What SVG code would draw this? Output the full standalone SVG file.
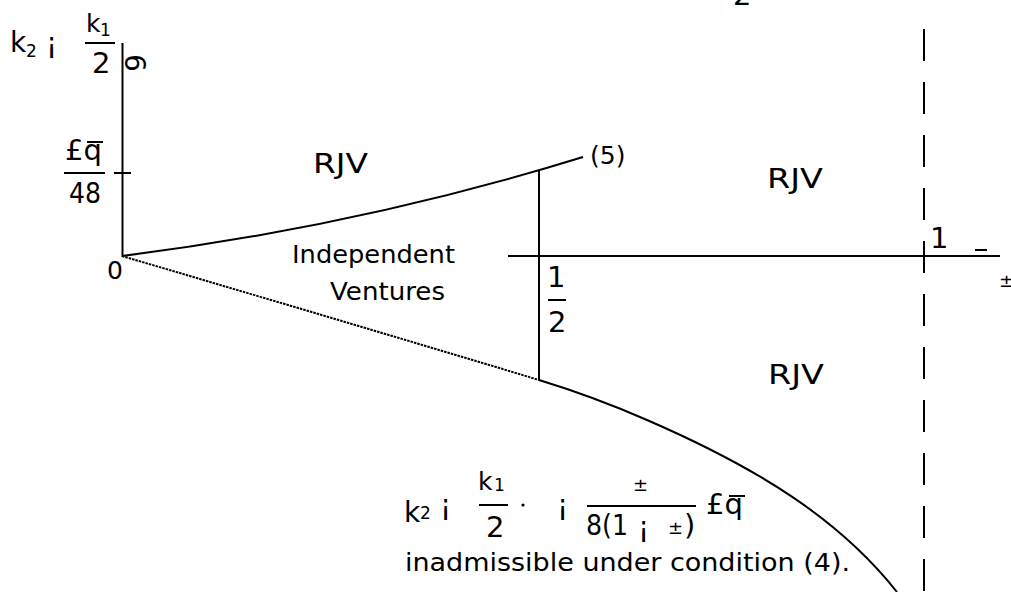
<svg xmlns="http://www.w3.org/2000/svg" width="1011" height="592" viewBox="0 0 1011 592">
<style>
  text { font-family: "DejaVu Sans", "Liberation Sans", sans-serif; fill: #000; }
  .lbl { font-size: 25px; }
  .rjv { font-size: 27px; }
  .m { font-size: 29px; }
  .mk { font-size: 28px; }
  .num { font-size: 25px; }
  .sub { font-size: 17px; }
  .pm { font-size: 18px; }
  .ln { stroke: #000; stroke-width: 2; fill: none; }
  .dot { stroke: #000; stroke-width: 2; fill: none; stroke-dasharray: 2.5 1; }
</style>
<rect width="1011" height="592" fill="#fff"/>

<g id="connectors">
  <line class="ln" x1="122.5" y1="43" x2="122.5" y2="257"/>
  <line class="ln" x1="114" y1="173" x2="131" y2="173"/>
  <path class="ln" d="M122,256 Q360,226 583,157"/>
  <line class="ln" x1="539" y1="170" x2="539" y2="380"/>
  <line class="ln" x1="508" y1="256" x2="1000" y2="256"/>
  <line class="ln" x1="924" y1="29" x2="924" y2="592" stroke-dasharray="32 21"/>
  <path class="dot" d="M122,256 C261,297 400,338 539,380"/>
  <path class="ln" d="M539,380 C580,392.5 615,406 647,420 C760,469 840,520 897,592"/>
</g>

<g id="ylabel">
  <text class="mk" x="10" y="52">k</text>
  <text class="sub" x="26" y="57">2</text>
  <text class="mk" x="46" y="53">¡</text>
  <text class="num" x="86" y="32">k</text>
  <text class="sub" x="100" y="36">1</text>
  <line class="ln" x1="85" y1="43" x2="115" y2="43"/>
  <text class="m" x="92" y="73">2</text>
  <text class="mk" transform="translate(135,63) rotate(90)" text-anchor="middle" y="10">6</text>
</g>

<g id="ytick-label">
  <text class="m" x="65" y="160">£q</text>
  <line class="ln" x1="87" y1="142" x2="103" y2="142"/>
  <line class="ln" x1="64" y1="173" x2="105" y2="173"/>
  <text class="m" x="69" y="203" textLength="32" lengthAdjust="spacingAndGlyphs">48</text>
</g>

<g id="origin">
  <text class="lbl" x="107" y="279">0</text>
</g>

<g id="rjv-left">
  <text class="rjv" x="313" y="173" textLength="55" lengthAdjust="spacingAndGlyphs">RJV</text>
</g>

<g id="curve5-label">
  <text class="lbl" x="590" y="164">(5)</text>
</g>

<g id="rjv-right-top">
  <text class="rjv" x="767" y="188" textLength="56" lengthAdjust="spacingAndGlyphs">RJV</text>
</g>

<g id="rjv-right-bottom">
  <text class="rjv" x="768" y="384" textLength="56" lengthAdjust="spacingAndGlyphs">RJV</text>
</g>

<g id="independent-ventures">
  <text class="lbl" x="292" y="263" textLength="163" lengthAdjust="spacingAndGlyphs">Independent</text>
  <text class="lbl" x="330" y="300" textLength="115" lengthAdjust="spacingAndGlyphs">Ventures</text>
</g>

<g id="half">
  <text class="m" x="547" y="287">1</text>
  <line class="ln" x1="548" y1="300" x2="566" y2="300"/>
  <text class="m" x="548" y="332">2</text>
</g>

<g id="one-over-delta">
  <text class="m" x="930" y="248">1</text>
  <line class="ln" x1="975" y1="250" x2="987" y2="250"/>
  <text class="pm" x="999" y="287">±</text>
</g>

<g id="top-two">
  <text class="m" x="733" y="5">2</text>
</g>

<g id="condition">
  <text class="mk" x="404" y="522">k</text>
  <text class="sub" x="420" y="519">2</text>
  <text class="mk" x="440" y="515">¡</text>
  <text class="num" x="478" y="490">k</text>
  <text class="sub" x="494" y="491">1</text>
  <line class="ln" x1="479" y1="505" x2="508" y2="505"/>
  <text class="m" x="486" y="537">2</text>
  <circle cx="523" cy="505" r="1.6" fill="#000"/>
  <text class="mk" x="557" y="515">¡</text>
  <text class="pm" x="633" y="491">±</text>
  <line class="ln" x1="587" y1="506" x2="696" y2="506"/>
  <text class="m" x="586" y="535" textLength="42" lengthAdjust="spacingAndGlyphs">8(1</text>
  <text class="mk" x="638" y="537">¡</text>
  <text class="pm" x="668" y="534">±</text>
  <text class="m" x="684" y="535">)</text>
  <text class="m" x="706" y="514">£q</text>
  <line class="ln" x1="729" y1="496" x2="745" y2="496"/>
  <text class="lbl" x="405" y="571" textLength="445" lengthAdjust="spacingAndGlyphs">inadmissible under condition (4).</text>
</g>
</svg>
